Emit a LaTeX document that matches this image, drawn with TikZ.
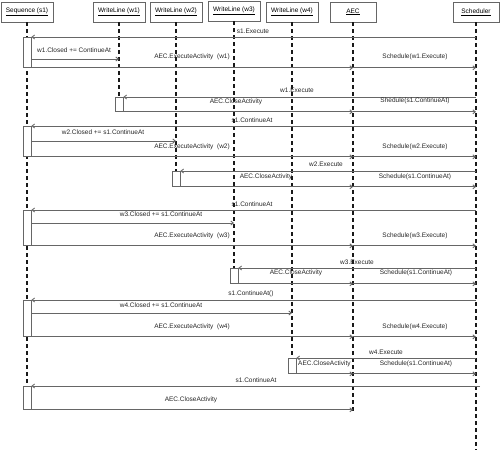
\documentclass[tikz,border=0pt]{standalone}
\usepackage{fontspec}
\setmainfont{Liberation Sans}
\usetikzlibrary{arrows.meta}
\begin{document}
\begin{tikzpicture}[x=1pt,y=-1pt,
  font=\fontsize{6.5}{7.5}\selectfont,
  hdr/.style={draw=black!60, fill=white, line width=0.8pt, inner sep=0pt, minimum height=20pt},
  life/.style={draw=black!90, line width=1.1pt, dash pattern=on 4pt off 3pt},
  act/.style={draw=black!60, fill=white, line width=0.8pt, minimum width=8pt, inner sep=0pt, anchor=north},
  msg/.style={draw=black!60, line width=0.9pt, -{Straight Barb[length=2.5pt,width=4pt]}},
  plain/.style={draw=black!60, line width=0.9pt},
  lbl/.style={inner sep=0pt, text=black!85},
  lbll/.style={inner sep=0pt, text=black!85, anchor=west}]
\useasboundingbox (0,0) rectangle (500,452);

% headers
\node[hdr, minimum width=52pt] (hs) at (27,12) {\underline{Sequence (s1)}};
\node[hdr, minimum width=52pt] (hw1) at (119,12) {\underline{WriteLine (w1)}};
\node[hdr, minimum width=52pt] (hw2) at (176,12) {\underline{WriteLine (w2)}};
\node[hdr, minimum width=52pt] (hw3) at (234,11) {\underline{WriteLine (w3)}};
\node[hdr, minimum width=52pt] (hw4) at (292,12) {\underline{WriteLine (w4)}};
\node[hdr, minimum width=46pt] (haec) at (353,12) {\underline{AEC}};
\node[hdr, minimum width=46pt] (hsch) at (476,12) {\underline{Scheduler}};

% lifeline ends
\coordinate (eaec) at (353,412);
\coordinate (esch) at (476,450);
\coordinate (e9) at (480,386);

% activation boxes (positions only)
\path (27,37) coordinate (p1) (119,97) coordinate (p2) (27,126) coordinate (p3)
      (176,171) coordinate (p4) (27,210) coordinate (p5) (234,268) coordinate (p6)
      (27,300) coordinate (p7) (292,358) coordinate (p8) (27,386) coordinate (p9);

% lifelines
\draw[life] (hs.south) -- (p9);
\draw[life] (hw1.south) -- (p2);
\draw[life] (hw2.south) -- (p4);
\draw[life] (hw3.south) -- (p6);
\draw[life] (hw4.south) -- (p8);
\draw[life] (haec.south) -- (eaec);
\draw[life] (hsch.south) -- (esch);

\node[act, minimum height=30pt] (a1) at (p1) {};
\node[act, minimum height=14pt] (a2) at (p2) {};
\node[act, minimum height=30pt] (a3) at (p3) {};
\node[act, minimum height=15pt] (a4) at (p4) {};
\node[act, minimum height=35pt] (a5) at (p5) {};
\node[act, minimum height=15pt] (a6) at (p6) {};
\node[act, minimum height=36pt] (a7) at (p7) {};
\node[act, minimum height=15pt] (a8) at (p8) {};
\node[act, minimum height=23pt] (a9) at (p9) {};

% row 1
\draw[msg] (hsch |- a1.north) -- (a1.north east);
\draw[msg] (a1.east |- 0,59) -- (hw1 |- 0,59);
\draw[msg] (a1.south east) -- (haec |- a1.south);
\draw[msg] (haec |- a1.south) -- (hsch |- a1.south);
% row 2
\draw[msg] (hsch |- a2.north) -- (a2.north east);
\draw[msg] (a2.south east) -- (haec |- a2.south);
\draw[msg] (haec |- a2.south) -- (hsch |- a2.south);
% row 3
\draw[msg] (hsch |- a3.north) -- (a3.north east);
\draw[msg] (a3.east |- 0,141) -- (hw2 |- 0,141);
\draw[msg] (a3.south east) -- (haec |- a3.south);
\draw[msg] (haec |- a3.south) -- (hsch |- a3.south);
% row 4
\draw[msg] (hsch |- a4.north) -- (a4.north east);
\draw[msg] (a4.south east) -- (haec |- a4.south);
\draw[msg] (haec |- a4.south) -- (hsch |- a4.south);
% row 5
\draw[msg] (hsch |- a5.north) -- (a5.north east);
\draw[msg] (a5.east |- 0,223) -- (hw3 |- 0,223);
\draw[msg] (a5.south east) -- (haec |- a5.south);
\draw[msg] (haec |- a5.south) -- (hsch |- a5.south);
% row 6
\draw[msg] (hsch |- a6.north) -- (a6.north east);
\draw[msg] (a6.south east) -- (haec |- a6.south);
\draw[msg] (haec |- a6.south) -- (hsch |- a6.south);
% row 7
\draw[msg] (hsch |- a7.north) -- (a7.north east);
\draw[msg] (a7.east |- 0,313) -- (hw4 |- 0,313);
\draw[msg] (a7.south east) -- (haec |- a7.south);
\draw[msg] (haec |- a7.south) -- (hsch |- a7.south);
% row 8
\draw[msg] (hsch |- a8.north) -- (a8.north east);
\draw[msg] (a8.south east) -- (haec |- a8.south);
\draw[msg] (haec |- a8.south) -- (hsch |- a8.south);
% row 9
\draw[msg] (e9) -- (a9.north east);
\draw[msg] (a9.south east) -- (haec |- a9.south);

% labels
\node[lbl] (t1) at (253,31) {s1.Execute};
\node[lbll] (t2) at (37,50) {w1.Closed += ContinueAt};
\node[lbl] (t3) at (192,57) {AEC.ExecuteActivity\ \ (w1)};
\node[lbl] (t4) at (415,57) {Schedule(w1.Execute)};
\node[lbl] (t5) at (297,90) {w1.Execute};
\node[lbl] (t6) at (236,102) {AEC.CloseActivity};
\node[lbl] (t7) at (415,101) {Shedule(s1.ContinueAt)};
\node[lbl] (t8) at (252,120) {s1.ContinueAt};
\node[lbl] (t9) at (103,132) {w2.Closed += s1.ContinueAt};
\node[lbl] (t10) at (192,147) {AEC.ExecuteActivity\ \ (w2)};
\node[lbl] (t11) at (415,147) {Schedule(w2.Execute)};
\node[lbl] (t12) at (326,164) {w2.Execute};
\node[lbl] (t13) at (266,177) {AEC.CloseActivity};
\node[lbl] (t14) at (415,177) {Schedule(s1.ContinueAt)};
\node[lbl] (t15) at (252,204) {s1.ContinueAt};
\node[lbl] (t16) at (161,214) {w3.Closed += s1.ContinueAt};
\node[lbl] (t17) at (192,236) {AEC.ExecuteActivity\ \ (w3)};
\node[lbl] (t18) at (415,236) {Schedule(w3.Execute)};
\node[lbl] (t19) at (357,262) {w3.Execute};
\node[lbl] (t20) at (296,273) {AEC.CloseActivity};
\node[lbl] (t21) at (416,273) {Schedule(s1.ContinueAt)};
\node[lbl] (t22) at (251,294) {s1.ContinueAt()};
\node[lbl] (t23) at (161,305) {w4.Closed += s1.ContinueAt};
\node[lbl] (t24) at (192,327) {AEC.ExecuteActivity\ \ (w4)};
\node[lbl] (t25) at (415,327) {Schedule(w4.Execute)};
\node[lbl] (t26) at (386,352) {w4.Execute};
\node[lbll] (t27) at (298,364) {AEC.CloseActivity};
\node[lbl] (t28) at (416,364) {Schedule(s1.ContinueAt)};
\node[lbl] (t29) at (256,380) {s1.ContinueAt};
\node[lbl] (t30) at (191,400) {AEC.CloseActivity};
\end{tikzpicture}
\end{document}
